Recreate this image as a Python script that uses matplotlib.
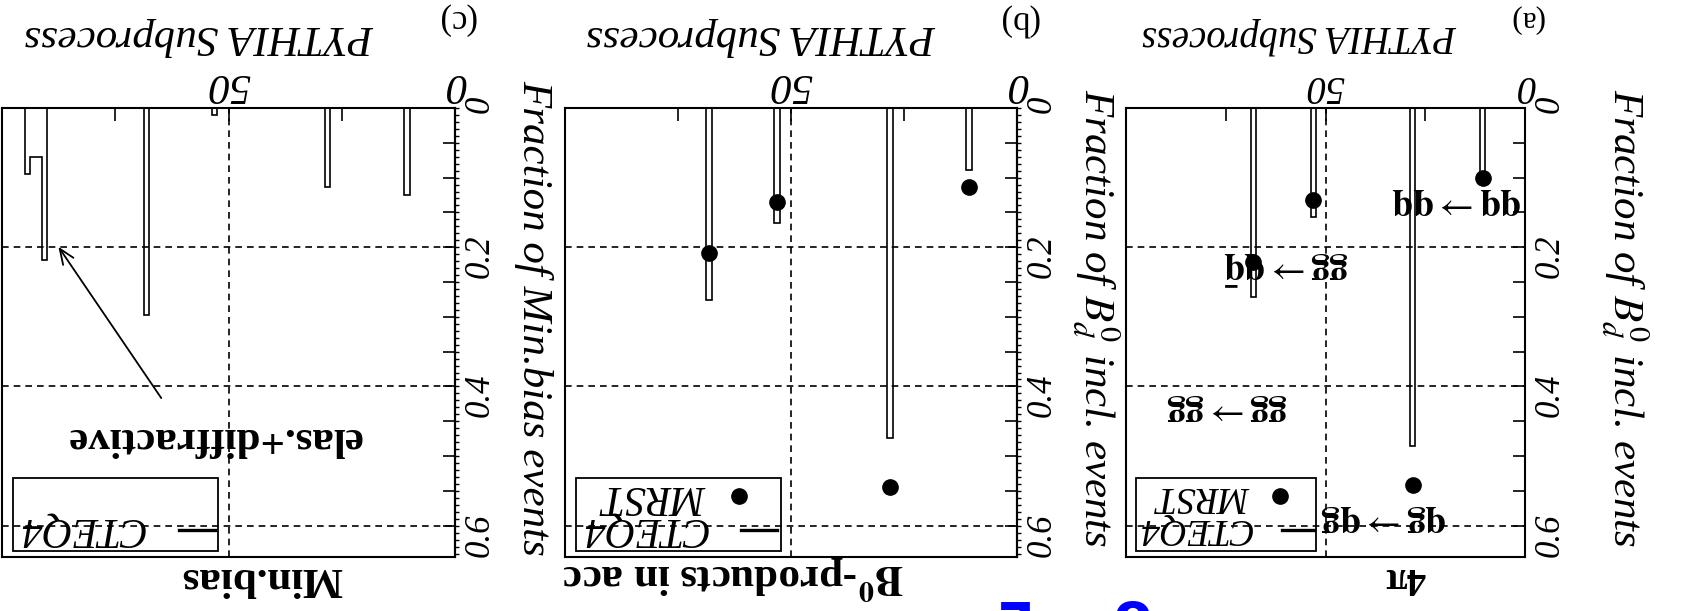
import numpy as np
import matplotlib
matplotlib.use("Agg")
import matplotlib.pyplot as plt
from matplotlib.patches import Rectangle

plt.rcParams['font.family'] = ['Liberation Serif', 'DejaVu Serif']
plt.rcParams['mathtext.fontset'] = 'stix'

W, H = 1694, 611

# PYTHIA subprocess numbers (ISUB) of the hard processes
isub = [11, 28, 53, 68]

# (a) all Bd0 events (4pi)
cteq_4pi = [0.100, 0.485, 0.157, 0.272]
mrst_4pi = [0.100, 0.542, 0.132, 0.221]

# (b) events with the B0 decay products in acceptance
cteq_acc = [0.089, 0.474, 0.165, 0.276]
mrst_acc = [0.113, 0.545, 0.135, 0.209]

# (c) minimum bias, incl. elastic (91) and diffractive (92-94)
isub_mb = [11, 28, 53, 68, 91, 92, 93, 94]
cteq_mb = [0.125, 0.114, 0.010, 0.298, 0.219, 0.070, 0.070, 0.095]

bins = np.linspace(0, 100, 81)
centers = 0.5 * (bins[:-1] + bins[1:])

proc_labels = [r'$\mathbf{qq}\rightarrow\mathbf{qq}$',
               r'$\mathbf{gg}\rightarrow\mathbf{q\bar{q}}$',
               r'$\mathbf{gg}\rightarrow\mathbf{gg}$',
               r'$\mathbf{qg}\rightarrow\mathbf{qg}$']
proc_x = [17.1, 60.0, 74.8, 35.4]
proc_y = [0.1375, 0.23, 0.433, 0.592]

ylab_b = r'Fraction of $B_d^0$ incl. events'
ylab_mb = 'Fraction of Min.bias events'

fig = plt.figure(figsize=(W / 100, H / 100), dpi=100)


def make_axes(x0, y0, x1, y1, s=1.0, ruler=False):
    ax = fig.add_axes([x0 / W, 1 - y1 / H, (x1 - x0) / W, (y1 - y0) / H])
    ax.set_xlim(100, 0)
    ax.set_ylim(0.645, 0)
    ax.xaxis.tick_top()
    ax.yaxis.tick_right()
    ax.set_xticks([0, 50])
    ax.set_xticklabels(['0', '50'])
    ax.set_xticks([25, 75], minor=True)
    ax.set_yticks([0, 0.2, 0.4, 0.6])
    ax.set_yticklabels(['0', '0.2', '0.4', '0.6'])
    ax.set_yticks(np.arange(0.05, 0.64, 0.05), minor=True)
    ax.tick_params(which='both', direction='in', top=True, right=True,
                   bottom=False, left=False, width=1.2)
    ax.tick_params(which='major', length=9, pad=5)
    ax.tick_params(which='minor', length=9)
    ax.tick_params(axis='x', labelsize=31 * s, pad=3)
    ax.tick_params(axis='y', labelsize=25, pad=6)
    for lb in ax.get_xticklabels():
        lb.set_rotation(180)
        lb.set_fontstyle('italic')
    for lb in ax.get_yticklabels():
        lb.set_rotation(90)
        lb.set_fontstyle('italic')
    for sp in ax.spines.values():
        sp.set_linewidth(1.5)
    ax.grid(True, which='major', color='k', lw=1.2, ls=(0, (4, 3)))
    ax.set_axisbelow(True)
    if ruler:
        # fine outer ticks along the right frame
        sec = ax.secondary_yaxis('right')
        sec.set_yticks(np.arange(0.0, 0.645, 0.01))
        sec.tick_params(direction='out', length=3, width=1, labelright=False)
        sec.spines['right'].set_linewidth(1.5)
    # x label sits above the frame (figure is upside down)
    ax.text(0.435, 1.16, 'PYTHIA Subprocess', transform=ax.transAxes,
            rotation=180, ha='center', va='center', fontsize=31 * s,
            fontstyle='italic')
    return ax


def legend_box(ax, with_mrst, s=1.0):
    ax.add_patch(Rectangle((52.3, 0.531), 45.2, 0.105, fill=False, lw=1.3,
                           zorder=5))
    ax.plot([53, 61], [0.606, 0.606], color='k', lw=2.4, zorder=6)
    ax.text(68.7, 0.604, 'CTEQ4', rotation=180, ha='right', va='center',
            fontsize=30 * s, fontstyle='italic', zorder=6)
    if with_mrst:
        ax.plot([61.5], [0.558], 'o', color='k', ms=11, zorder=6)
        ax.text(68.7, 0.558, 'MRST', rotation=180, ha='right', va='center',
                fontsize=30 * s, fontstyle='italic', zorder=6)


def draw_hist(ax, ids, cteq, mrst=None):
    vals, _ = np.histogram(ids, bins=bins, weights=cteq)
    ax.stairs(vals, bins, color='k', lw=1.2, zorder=3)
    if mrst is not None:
        mv, _ = np.histogram(ids, bins=bins, weights=mrst)
        m = mv > 0
        ax.plot(centers[m], mv[m], 'o', color='k', ms=11, zorder=4)


def title(ax, txt, s=1.0):
    ax.text(25, 0.675, txt, rotation=180, ha='right', va='center',
            fontsize=31 * s, fontweight='bold', clip_on=False)


# panel (a) is a little narrower than the other two
sa = 0.9
ax_a = make_axes(1126, 108, 1525, 557, s=sa)
draw_hist(ax_a, isub, cteq_4pi, mrst_4pi)
for t, x, y in zip(proc_labels, proc_x, proc_y):
    ax_a.text(x, y, t, rotation=180, ha='center', va='center',
              fontsize=30 * sa)
legend_box(ax_a, True, s=sa)
title(ax_a, '4π', s=sa)

# panel (b)
ax_b = make_axes(565, 108, 1017, 557, ruler=True)
draw_hist(ax_b, isub, cteq_acc, mrst_acc)
legend_box(ax_b, True)
title(ax_b, r'$\mathbf{B^0}$-products in acc')

# panel (c)
ax_c = make_axes(2, 108, 455, 557, ruler=True)
draw_hist(ax_c, isub_mb, cteq_mb)
legend_box(ax_c, False)
ax_c.annotate('', xy=(87.9, 0.196), xytext=(64.5, 0.42),
              arrowprops=dict(arrowstyle='->,head_length=1.1,head_width=0.45',
                              color='k', lw=1.3))
ax_c.text(53.3, 0.474, 'elas.+diffractive', rotation=180, ha='center',
          va='center', fontsize=31, fontweight='bold')
title(ax_c, 'Min.bias')

# y labels and panel tags
for x1, dx, s, tag, lab in [(1525, 100, sa, '(a)', ylab_b),
                            (1017, 79, 1.0, '(b)', ylab_b),
                            (455, 79, 1.0, '(c)', ylab_mb)]:
    fig.text((x1 + dx) / W, 1 - 318 / H, lab, rotation=270, ha='center',
             va='center', fontsize=31, fontstyle='italic')
    fig.text((x1 + 1) / W, 1 - 19 / H, tag, rotation=180, ha='center',
             va='center', fontsize=25 * s)

# link text cut at the lower page edge
fig.text(1129 / W, 1 - 588 / H, 'o', rotation=180, ha='center', va='top',
         fontsize=40, fontweight='bold', color='blue', family='DejaVu Sans')
fig.text(1007 / W, 1 - 588 / H, 'L', rotation=180, ha='center', va='top',
         fontsize=40, fontweight='bold', color='blue', family='DejaVu Sans')

fig.savefig('out.png', dpi=100)
